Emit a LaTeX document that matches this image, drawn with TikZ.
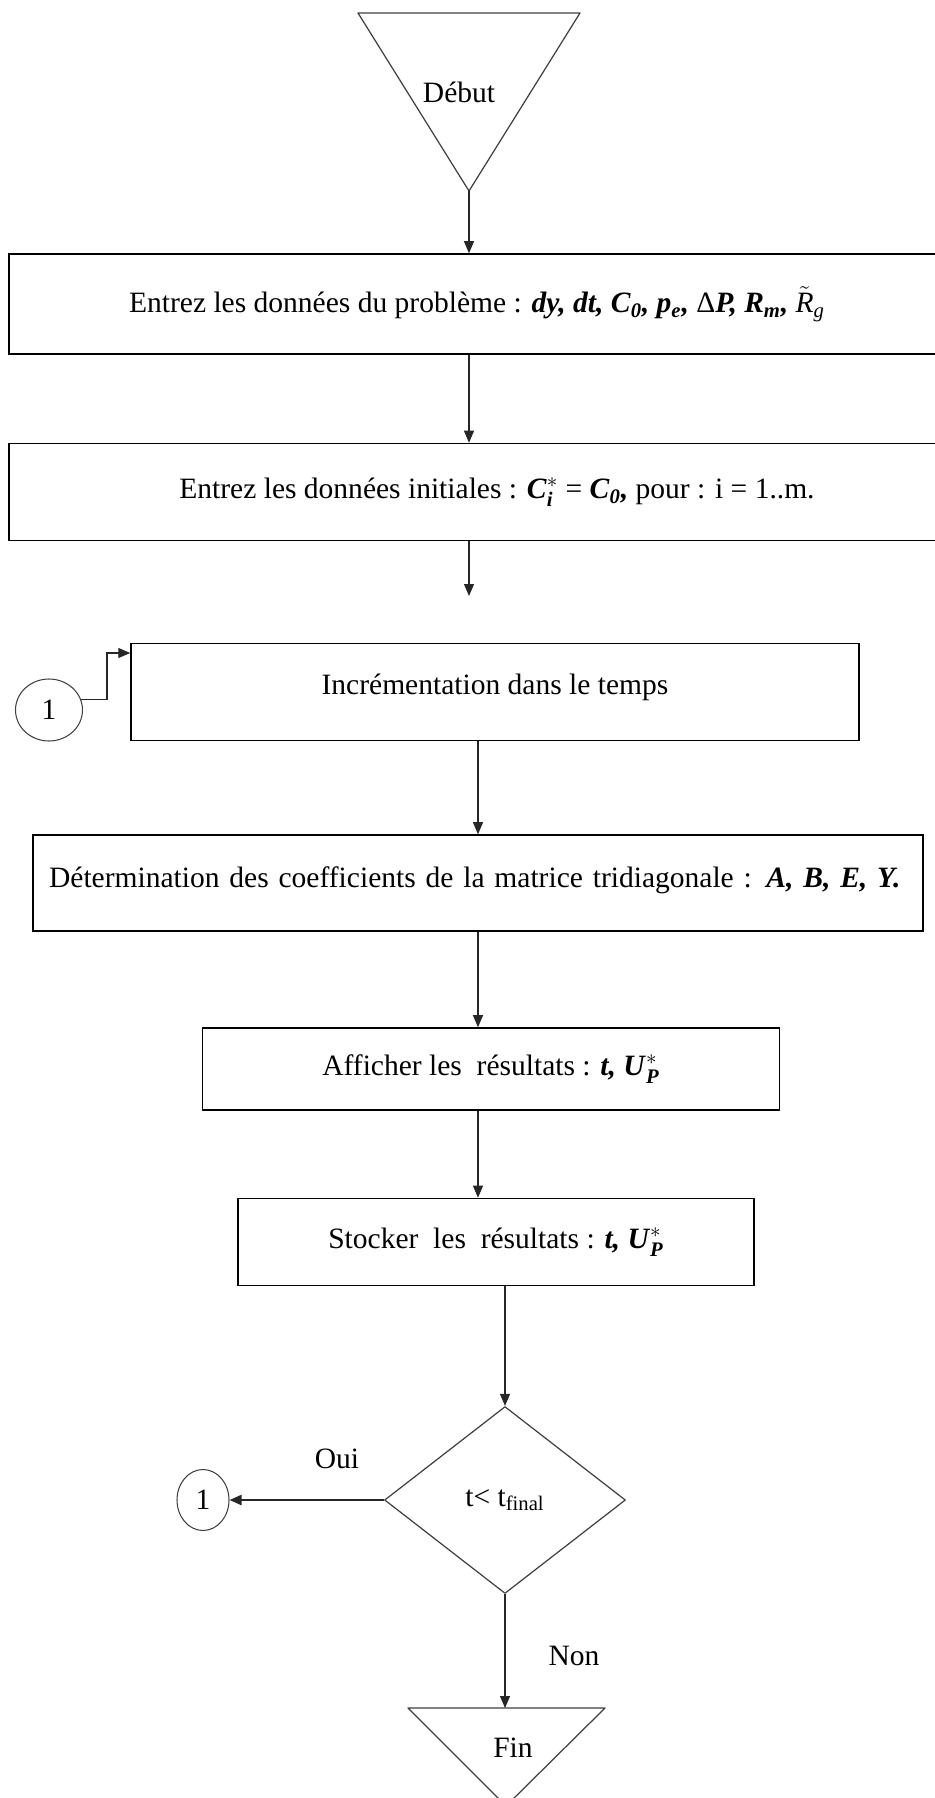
\documentclass[tikz,border=0pt]{standalone}
\usepackage{amsmath}
\usepackage{fontspec}
\setmainfont{Liberation Serif}
\usetikzlibrary{arrows.meta,shapes.geometric}

\newcommand{\bi}[1]{\textbf{\textit{#1}}}

\begin{document}
\begin{tikzpicture}[x=0.02cm,y=-0.02cm,>={Triangle[length=2.4mm,width=2mm]},
  font=\fontsize{16.8}{20}\selectfont,
  box/.style={draw,line width=0.9pt,inner sep=0pt},
  link/.style={->,draw=black!85,line width=0.6pt},
  term/.style={draw=black!75,line width=0.7pt,line join=round},
  conn/.style={ellipse,draw=black!75,line width=0.6pt,inner sep=0pt}]
  \useasboundingbox (0,0) rectangle (935,1798);
  \coordinate (debutTip) at (469,191);
  \draw[term] (358,13) -- (580,13) -- (debutTip) -- cycle;
  \node (debut) at (459,92) {Début};
  \node[box,minimum width=18.72cm,minimum height=2cm] (entree) at (477,304) {Entrez les données du problème : \bi{dy, dt, C}\textsubscript{\bi{0}}\bi{, p}\textsubscript{\bi{e}}\bi{,} Δ\bi{P, R}\textsubscript{\bi{m}}\bi{,} $\tilde{\textit{R}}_{\textit{g}}$};
  \node[box,minimum width=19.52cm,minimum height=1.94cm] (initial) at (497,492) {Entrez les données initiales : $\bi{C}_{\bi{i}}^{*}$ = \bi{C}\textsubscript{\bi{0}}\bi{,} pour : i = 1..m.};
  \coordinate (gap) at (469,596);
  \node[box,minimum width=14.56cm,minimum height=1.94cm,text depth=0.3cm] (incr) at (495,692) {Incrémentation dans le temps};
  \node[conn,minimum width=1.34cm,minimum height=1.24cm] (con1) at (49,710) {1};
  \coordinate (k1) at (107,653);
  \node[box,minimum height=1.92cm,inner xsep=0.32cm,text width=17.16cm,align=left,text depth=0.25cm] (coeff) at (478,883) {\mbox{Détermination des coefficients de la matrice tridiagonale : \bi{A, B, E, Y.}}};
  \node[box,minimum width=11.54cm,minimum height=1.64cm] (aff) at (491,1069) {Afficher les~ résultats : \bi{t,} $\bi{U}_{\bi{P}}^{*}$};
  \node[box,minimum width=10.32cm,minimum height=1.74cm] (stock) at (496,1242) {Stocker~ les~ résultats : \bi{t,} $\bi{U}_{\bi{P}}^{*}$};
  \node[diamond,term,minimum width=4.82cm,minimum height=3.74cm,inner sep=0pt] (test) at (505,1500) {t< t\textsubscript{final}};
  \node[conn,minimum width=1.04cm,minimum height=1.22cm] (con2) at (203,1500) {1};
  \node (oui) at (337,1459) {Oui};
  \node (non) at (574,1656) {Non};
  \coordinate (finTop) at (505,1708);
  \draw[term] (408,1708) -- (605,1708) -- (506,1806) -- cycle;
  \node (fin) at (513,1748) {Fin};
  \draw[link] (debutTip) -- (entree.north -| debutTip);
  \draw[link] (entree.south -| debutTip) -- (initial.north -| debutTip);
  \draw[link] (initial.south -| debutTip) -- (gap);
  \draw[link] (con1.18) -| (k1) -- (k1 -| incr.west);
  \draw[link] (incr.south -| coeff.north) -- (coeff.north);
  \draw[link] (coeff.south) -- (coeff.south |- aff.north);
  \draw[link] (aff.south -| coeff.south) -- (stock.north -| coeff.south);
  \draw[link] (stock.south -| test.north) -- (test.north);
  \draw[link,line width=1.3pt] (test.west) -- (con2.east);
  \draw[link] (test.south) -- (finTop);
\end{tikzpicture}
\end{document}
